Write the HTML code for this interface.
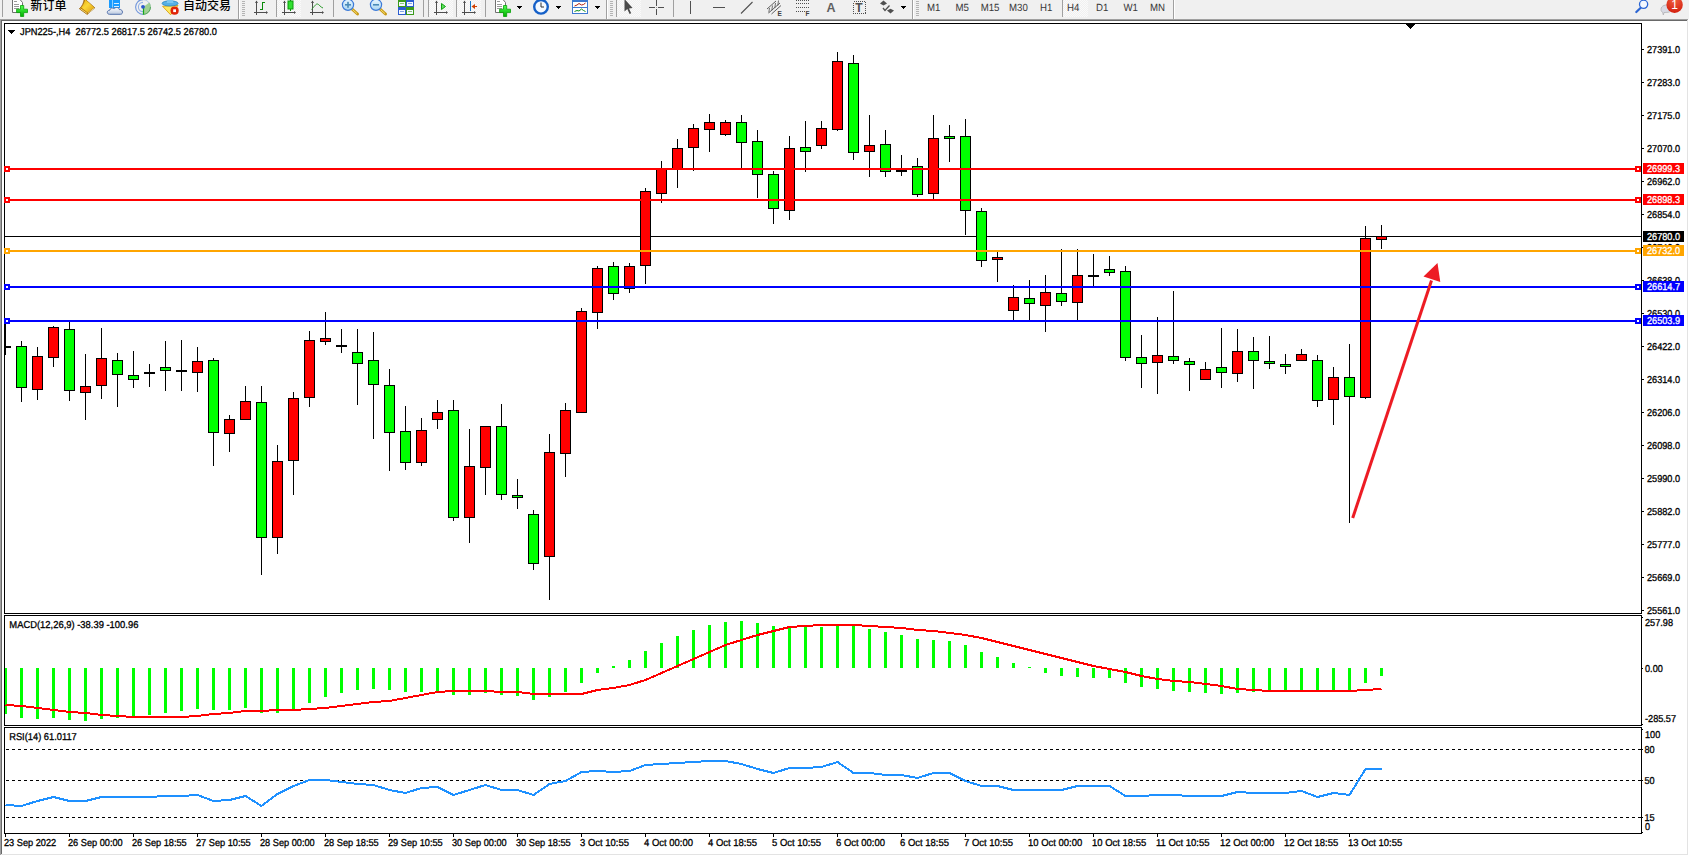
<!DOCTYPE html>
<html lang="zh-CN">
<head>
<meta charset="utf-8">
<title>JPN225-,H4</title>
<style>
html,body{margin:0;padding:0;background:#fff;}
body{width:1689px;height:856px;overflow:hidden;position:relative;font-family:"Liberation Sans","Noto Sans CJK SC",sans-serif;}
svg{position:absolute;left:0;top:0;display:block;}

.t text{font-family:"Liberation Sans","Noto Sans CJK SC",sans-serif;font-size:10px;stroke-width:0.3px;text-rendering:geometricPrecision;}
.tb text{font-family:"Liberation Sans","Noto Sans CJK SC",sans-serif;}
</style>
</head>
<body>
<svg width="1689" height="856" viewBox="0 0 1689 856" shape-rendering="crispEdges">
<rect x="0" y="0" width="1689" height="856" fill="#ffffff"/>
<rect x="0" y="0" width="1689" height="19" fill="#f0f0f0"/>
<rect x="0" y="19" width="1688" height="1" fill="#a0a0a0"/>
<rect x="0" y="19" width="1" height="836" fill="#a0a0a0"/>
<rect x="1" y="20" width="1686" height="1" fill="#696969"/>
<rect x="1" y="20" width="1" height="834" fill="#696969"/>
<rect x="1" y="854" width="1687" height="1" fill="#e3e3e3"/>
<rect x="1687" y="20" width="1" height="835" fill="#e3e3e3"/>
<g id="chart">
<rect x="4" y="23" width="1638" height="1" fill="#000"/>
<rect x="4" y="613" width="1638" height="1" fill="#000"/>
<rect x="4" y="23" width="1" height="591" fill="#000"/>
<rect x="4" y="615" width="1638" height="1" fill="#000"/>
<rect x="4" y="725" width="1638" height="1" fill="#000"/>
<rect x="4" y="615" width="1" height="111" fill="#000"/>
<rect x="4" y="727" width="1638" height="1" fill="#000"/>
<rect x="4" y="833" width="1638" height="1" fill="#000"/>
<rect x="4" y="727" width="1" height="107" fill="#000"/>
<rect x="1641" y="23" width="1" height="591" fill="#000"/>
<rect x="1641" y="615" width="1" height="111" fill="#000"/>
<rect x="1641" y="727" width="1" height="107" fill="#000"/>
<rect x="1642" y="49" width="2" height="1" fill="#000"/>
<rect x="1642" y="82" width="2" height="1" fill="#000"/>
<rect x="1642" y="115" width="2" height="1" fill="#000"/>
<rect x="1642" y="148" width="2" height="1" fill="#000"/>
<rect x="1642" y="181" width="2" height="1" fill="#000"/>
<rect x="1642" y="214" width="2" height="1" fill="#000"/>
<rect x="1642" y="247" width="2" height="1" fill="#000"/>
<rect x="1642" y="280" width="2" height="1" fill="#000"/>
<rect x="1642" y="313" width="2" height="1" fill="#000"/>
<rect x="1642" y="346" width="2" height="1" fill="#000"/>
<rect x="1642" y="379" width="2" height="1" fill="#000"/>
<rect x="1642" y="412" width="2" height="1" fill="#000"/>
<rect x="1642" y="445" width="2" height="1" fill="#000"/>
<rect x="1642" y="478" width="2" height="1" fill="#000"/>
<rect x="1642" y="511" width="2" height="1" fill="#000"/>
<rect x="1642" y="544" width="2" height="1" fill="#000"/>
<rect x="1642" y="577" width="2" height="1" fill="#000"/>
<rect x="1642" y="610" width="2" height="1" fill="#000"/>
<rect x="1642" y="617" width="1" height="1" fill="#000"/>
<rect x="1642" y="668" width="1" height="1" fill="#000"/>
<rect x="1642" y="724" width="1" height="1" fill="#000"/>
<rect x="1642" y="729" width="1" height="1" fill="#000"/>
<rect x="1642" y="749" width="1" height="1" fill="#000"/>
<rect x="1642" y="780" width="1" height="1" fill="#000"/>
<rect x="1642" y="817" width="1" height="1" fill="#000"/>
<rect x="1642" y="832" width="1" height="1" fill="#000"/>
<rect x="5" y="834" width="1" height="3" fill="#000"/>
<rect x="69" y="834" width="1" height="3" fill="#000"/>
<rect x="133" y="834" width="1" height="3" fill="#000"/>
<rect x="197" y="834" width="1" height="3" fill="#000"/>
<rect x="261" y="834" width="1" height="3" fill="#000"/>
<rect x="325" y="834" width="1" height="3" fill="#000"/>
<rect x="389" y="834" width="1" height="3" fill="#000"/>
<rect x="453" y="834" width="1" height="3" fill="#000"/>
<rect x="517" y="834" width="1" height="3" fill="#000"/>
<rect x="581" y="834" width="1" height="3" fill="#000"/>
<rect x="645" y="834" width="1" height="3" fill="#000"/>
<rect x="709" y="834" width="1" height="3" fill="#000"/>
<rect x="773" y="834" width="1" height="3" fill="#000"/>
<rect x="837" y="834" width="1" height="3" fill="#000"/>
<rect x="901" y="834" width="1" height="3" fill="#000"/>
<rect x="965" y="834" width="1" height="3" fill="#000"/>
<rect x="1029" y="834" width="1" height="3" fill="#000"/>
<rect x="1093" y="834" width="1" height="3" fill="#000"/>
<rect x="1157" y="834" width="1" height="3" fill="#000"/>
<rect x="1221" y="834" width="1" height="3" fill="#000"/>
<rect x="1285" y="834" width="1" height="3" fill="#000"/>
<rect x="1349" y="834" width="1" height="3" fill="#000"/>
<path d="M1405.5 24h10l-5 5z" fill="#000"/>
<rect x="5" y="236" width="1636" height="1" fill="#000"/>
</g>
<g id="candles">
<rect x="5" y="322" width="1" height="33" fill="#000"/>
<rect x="5" y="346" width="6" height="2" fill="#000"/>
<rect x="21" y="341" width="1" height="61" fill="#000"/>
<rect x="16" y="346" width="11" height="42" fill="#000"/>
<rect x="17" y="347" width="9" height="40" fill="#00ff00"/>
<rect x="37" y="347" width="1" height="53" fill="#000"/>
<rect x="32" y="356" width="11" height="34" fill="#000"/>
<rect x="33" y="357" width="9" height="32" fill="#ff0000"/>
<rect x="53" y="326" width="1" height="41" fill="#000"/>
<rect x="48" y="327" width="11" height="31" fill="#000"/>
<rect x="49" y="328" width="9" height="29" fill="#ff0000"/>
<rect x="69" y="322" width="1" height="79" fill="#000"/>
<rect x="64" y="329" width="11" height="62" fill="#000"/>
<rect x="65" y="330" width="9" height="60" fill="#00ff00"/>
<rect x="85" y="354" width="1" height="66" fill="#000"/>
<rect x="80" y="386" width="11" height="7" fill="#000"/>
<rect x="81" y="387" width="9" height="5" fill="#ff0000"/>
<rect x="101" y="328" width="1" height="71" fill="#000"/>
<rect x="96" y="358" width="11" height="28" fill="#000"/>
<rect x="97" y="359" width="9" height="26" fill="#ff0000"/>
<rect x="117" y="353" width="1" height="54" fill="#000"/>
<rect x="112" y="360" width="11" height="15" fill="#000"/>
<rect x="113" y="361" width="9" height="13" fill="#00ff00"/>
<rect x="133" y="351" width="1" height="37" fill="#000"/>
<rect x="128" y="375" width="11" height="5" fill="#000"/>
<rect x="129" y="376" width="9" height="3" fill="#00ff00"/>
<rect x="149" y="364" width="1" height="23" fill="#000"/>
<rect x="144" y="372" width="11" height="2" fill="#000"/>
<rect x="165" y="341" width="1" height="50" fill="#000"/>
<rect x="160" y="367" width="11" height="4" fill="#000"/>
<rect x="161" y="368" width="9" height="2" fill="#00ff00"/>
<rect x="181" y="340" width="1" height="51" fill="#000"/>
<rect x="176" y="370" width="11" height="2" fill="#000"/>
<rect x="197" y="347" width="1" height="45" fill="#000"/>
<rect x="192" y="361" width="11" height="12" fill="#000"/>
<rect x="193" y="362" width="9" height="10" fill="#ff0000"/>
<rect x="213" y="358" width="1" height="108" fill="#000"/>
<rect x="208" y="360" width="11" height="73" fill="#000"/>
<rect x="209" y="361" width="9" height="71" fill="#00ff00"/>
<rect x="229" y="415" width="1" height="37" fill="#000"/>
<rect x="224" y="419" width="11" height="15" fill="#000"/>
<rect x="225" y="420" width="9" height="13" fill="#ff0000"/>
<rect x="245" y="386" width="1" height="34" fill="#000"/>
<rect x="240" y="401" width="11" height="19" fill="#000"/>
<rect x="241" y="402" width="9" height="17" fill="#ff0000"/>
<rect x="261" y="386" width="1" height="189" fill="#000"/>
<rect x="256" y="402" width="11" height="136" fill="#000"/>
<rect x="257" y="403" width="9" height="134" fill="#00ff00"/>
<rect x="277" y="445" width="1" height="109" fill="#000"/>
<rect x="272" y="461" width="11" height="77" fill="#000"/>
<rect x="273" y="462" width="9" height="75" fill="#ff0000"/>
<rect x="293" y="392" width="1" height="103" fill="#000"/>
<rect x="288" y="398" width="11" height="63" fill="#000"/>
<rect x="289" y="399" width="9" height="61" fill="#ff0000"/>
<rect x="309" y="331" width="1" height="76" fill="#000"/>
<rect x="304" y="340" width="11" height="58" fill="#000"/>
<rect x="305" y="341" width="9" height="56" fill="#ff0000"/>
<rect x="325" y="312" width="1" height="33" fill="#000"/>
<rect x="320" y="338" width="11" height="4" fill="#000"/>
<rect x="321" y="339" width="9" height="2" fill="#ff0000"/>
<rect x="341" y="329" width="1" height="24" fill="#000"/>
<rect x="336" y="345" width="11" height="2" fill="#000"/>
<rect x="357" y="329" width="1" height="76" fill="#000"/>
<rect x="352" y="352" width="11" height="12" fill="#000"/>
<rect x="353" y="353" width="9" height="10" fill="#00ff00"/>
<rect x="373" y="332" width="1" height="107" fill="#000"/>
<rect x="368" y="360" width="11" height="25" fill="#000"/>
<rect x="369" y="361" width="9" height="23" fill="#00ff00"/>
<rect x="389" y="369" width="1" height="102" fill="#000"/>
<rect x="384" y="385" width="11" height="48" fill="#000"/>
<rect x="385" y="386" width="9" height="46" fill="#00ff00"/>
<rect x="405" y="406" width="1" height="64" fill="#000"/>
<rect x="400" y="431" width="11" height="32" fill="#000"/>
<rect x="401" y="432" width="9" height="30" fill="#00ff00"/>
<rect x="421" y="418" width="1" height="48" fill="#000"/>
<rect x="416" y="430" width="11" height="33" fill="#000"/>
<rect x="417" y="431" width="9" height="31" fill="#ff0000"/>
<rect x="437" y="400" width="1" height="29" fill="#000"/>
<rect x="432" y="412" width="11" height="8" fill="#000"/>
<rect x="433" y="413" width="9" height="6" fill="#ff0000"/>
<rect x="453" y="400" width="1" height="121" fill="#000"/>
<rect x="448" y="410" width="11" height="108" fill="#000"/>
<rect x="449" y="411" width="9" height="106" fill="#00ff00"/>
<rect x="469" y="429" width="1" height="114" fill="#000"/>
<rect x="464" y="466" width="11" height="52" fill="#000"/>
<rect x="465" y="467" width="9" height="50" fill="#ff0000"/>
<rect x="485" y="426" width="1" height="69" fill="#000"/>
<rect x="480" y="426" width="11" height="42" fill="#000"/>
<rect x="481" y="427" width="9" height="40" fill="#ff0000"/>
<rect x="501" y="404" width="1" height="96" fill="#000"/>
<rect x="496" y="426" width="11" height="69" fill="#000"/>
<rect x="497" y="427" width="9" height="67" fill="#00ff00"/>
<rect x="517" y="479" width="1" height="30" fill="#000"/>
<rect x="512" y="495" width="11" height="3" fill="#000"/>
<rect x="513" y="496" width="9" height="1" fill="#00ff00"/>
<rect x="533" y="510" width="1" height="60" fill="#000"/>
<rect x="528" y="514" width="11" height="50" fill="#000"/>
<rect x="529" y="515" width="9" height="48" fill="#00ff00"/>
<rect x="549" y="434" width="1" height="166" fill="#000"/>
<rect x="544" y="452" width="11" height="105" fill="#000"/>
<rect x="545" y="453" width="9" height="103" fill="#ff0000"/>
<rect x="565" y="403" width="1" height="74" fill="#000"/>
<rect x="560" y="410" width="11" height="44" fill="#000"/>
<rect x="561" y="411" width="9" height="42" fill="#ff0000"/>
<rect x="581" y="308" width="1" height="105" fill="#000"/>
<rect x="576" y="311" width="11" height="102" fill="#000"/>
<rect x="577" y="312" width="9" height="100" fill="#ff0000"/>
<rect x="597" y="266" width="1" height="63" fill="#000"/>
<rect x="592" y="268" width="11" height="45" fill="#000"/>
<rect x="593" y="269" width="9" height="43" fill="#ff0000"/>
<rect x="613" y="262" width="1" height="38" fill="#000"/>
<rect x="608" y="266" width="11" height="28" fill="#000"/>
<rect x="609" y="267" width="9" height="26" fill="#00ff00"/>
<rect x="629" y="263" width="1" height="30" fill="#000"/>
<rect x="624" y="266" width="11" height="23" fill="#000"/>
<rect x="625" y="267" width="9" height="21" fill="#ff0000"/>
<rect x="645" y="188" width="1" height="96" fill="#000"/>
<rect x="640" y="191" width="11" height="75" fill="#000"/>
<rect x="641" y="192" width="9" height="73" fill="#ff0000"/>
<rect x="661" y="161" width="1" height="42" fill="#000"/>
<rect x="656" y="168" width="11" height="26" fill="#000"/>
<rect x="657" y="169" width="9" height="24" fill="#ff0000"/>
<rect x="677" y="139" width="1" height="49" fill="#000"/>
<rect x="672" y="148" width="11" height="22" fill="#000"/>
<rect x="673" y="149" width="9" height="20" fill="#ff0000"/>
<rect x="693" y="124" width="1" height="47" fill="#000"/>
<rect x="688" y="128" width="11" height="20" fill="#000"/>
<rect x="689" y="129" width="9" height="18" fill="#ff0000"/>
<rect x="709" y="114" width="1" height="38" fill="#000"/>
<rect x="704" y="122" width="11" height="8" fill="#000"/>
<rect x="705" y="123" width="9" height="6" fill="#ff0000"/>
<rect x="725" y="120" width="1" height="16" fill="#000"/>
<rect x="720" y="122" width="11" height="13" fill="#000"/>
<rect x="721" y="123" width="9" height="11" fill="#ff0000"/>
<rect x="741" y="115" width="1" height="54" fill="#000"/>
<rect x="736" y="122" width="11" height="21" fill="#000"/>
<rect x="737" y="123" width="9" height="19" fill="#00ff00"/>
<rect x="757" y="130" width="1" height="68" fill="#000"/>
<rect x="752" y="141" width="11" height="34" fill="#000"/>
<rect x="753" y="142" width="9" height="32" fill="#00ff00"/>
<rect x="773" y="171" width="1" height="53" fill="#000"/>
<rect x="768" y="174" width="11" height="35" fill="#000"/>
<rect x="769" y="175" width="9" height="33" fill="#00ff00"/>
<rect x="789" y="136" width="1" height="84" fill="#000"/>
<rect x="784" y="148" width="11" height="63" fill="#000"/>
<rect x="785" y="149" width="9" height="61" fill="#ff0000"/>
<rect x="805" y="121" width="1" height="51" fill="#000"/>
<rect x="800" y="147" width="11" height="5" fill="#000"/>
<rect x="801" y="148" width="9" height="3" fill="#00ff00"/>
<rect x="821" y="121" width="1" height="28" fill="#000"/>
<rect x="816" y="128" width="11" height="18" fill="#000"/>
<rect x="817" y="129" width="9" height="16" fill="#ff0000"/>
<rect x="837" y="52" width="1" height="79" fill="#000"/>
<rect x="832" y="61" width="11" height="69" fill="#000"/>
<rect x="833" y="62" width="9" height="67" fill="#ff0000"/>
<rect x="853" y="55" width="1" height="105" fill="#000"/>
<rect x="848" y="63" width="11" height="90" fill="#000"/>
<rect x="849" y="64" width="9" height="88" fill="#00ff00"/>
<rect x="869" y="115" width="1" height="62" fill="#000"/>
<rect x="864" y="145" width="11" height="7" fill="#000"/>
<rect x="865" y="146" width="9" height="5" fill="#ff0000"/>
<rect x="885" y="130" width="1" height="47" fill="#000"/>
<rect x="880" y="144" width="11" height="28" fill="#000"/>
<rect x="881" y="145" width="9" height="26" fill="#00ff00"/>
<rect x="901" y="155" width="1" height="21" fill="#000"/>
<rect x="896" y="170" width="11" height="2" fill="#000"/>
<rect x="917" y="158" width="1" height="39" fill="#000"/>
<rect x="912" y="166" width="11" height="29" fill="#000"/>
<rect x="913" y="167" width="9" height="27" fill="#00ff00"/>
<rect x="933" y="115" width="1" height="84" fill="#000"/>
<rect x="928" y="138" width="11" height="56" fill="#000"/>
<rect x="929" y="139" width="9" height="54" fill="#ff0000"/>
<rect x="949" y="125" width="1" height="37" fill="#000"/>
<rect x="944" y="136" width="11" height="3" fill="#000"/>
<rect x="945" y="137" width="9" height="1" fill="#00ff00"/>
<rect x="965" y="119" width="1" height="116" fill="#000"/>
<rect x="960" y="136" width="11" height="75" fill="#000"/>
<rect x="961" y="137" width="9" height="73" fill="#00ff00"/>
<rect x="981" y="208" width="1" height="59" fill="#000"/>
<rect x="976" y="211" width="11" height="50" fill="#000"/>
<rect x="977" y="212" width="9" height="48" fill="#00ff00"/>
<rect x="997" y="252" width="1" height="30" fill="#000"/>
<rect x="992" y="257" width="11" height="3" fill="#000"/>
<rect x="993" y="258" width="9" height="1" fill="#ff0000"/>
<rect x="1013" y="285" width="1" height="36" fill="#000"/>
<rect x="1008" y="297" width="11" height="14" fill="#000"/>
<rect x="1009" y="298" width="9" height="12" fill="#ff0000"/>
<rect x="1029" y="280" width="1" height="41" fill="#000"/>
<rect x="1024" y="298" width="11" height="6" fill="#000"/>
<rect x="1025" y="299" width="9" height="4" fill="#00ff00"/>
<rect x="1045" y="275" width="1" height="57" fill="#000"/>
<rect x="1040" y="292" width="11" height="14" fill="#000"/>
<rect x="1041" y="293" width="9" height="12" fill="#ff0000"/>
<rect x="1061" y="249" width="1" height="57" fill="#000"/>
<rect x="1056" y="293" width="11" height="9" fill="#000"/>
<rect x="1057" y="294" width="9" height="7" fill="#00ff00"/>
<rect x="1077" y="249" width="1" height="72" fill="#000"/>
<rect x="1072" y="275" width="11" height="28" fill="#000"/>
<rect x="1073" y="276" width="9" height="26" fill="#ff0000"/>
<rect x="1093" y="254" width="1" height="32" fill="#000"/>
<rect x="1088" y="275" width="11" height="2" fill="#000"/>
<rect x="1109" y="256" width="1" height="20" fill="#000"/>
<rect x="1104" y="269" width="11" height="4" fill="#000"/>
<rect x="1105" y="270" width="9" height="2" fill="#00ff00"/>
<rect x="1125" y="266" width="1" height="95" fill="#000"/>
<rect x="1120" y="271" width="11" height="87" fill="#000"/>
<rect x="1121" y="272" width="9" height="85" fill="#00ff00"/>
<rect x="1141" y="335" width="1" height="53" fill="#000"/>
<rect x="1136" y="357" width="11" height="7" fill="#000"/>
<rect x="1137" y="358" width="9" height="5" fill="#00ff00"/>
<rect x="1157" y="317" width="1" height="77" fill="#000"/>
<rect x="1152" y="355" width="11" height="8" fill="#000"/>
<rect x="1153" y="356" width="9" height="6" fill="#ff0000"/>
<rect x="1173" y="291" width="1" height="73" fill="#000"/>
<rect x="1168" y="356" width="11" height="5" fill="#000"/>
<rect x="1169" y="357" width="9" height="3" fill="#00ff00"/>
<rect x="1189" y="358" width="1" height="33" fill="#000"/>
<rect x="1184" y="361" width="11" height="4" fill="#000"/>
<rect x="1185" y="362" width="9" height="2" fill="#00ff00"/>
<rect x="1205" y="362" width="1" height="18" fill="#000"/>
<rect x="1200" y="369" width="11" height="11" fill="#000"/>
<rect x="1201" y="370" width="9" height="9" fill="#ff0000"/>
<rect x="1221" y="328" width="1" height="60" fill="#000"/>
<rect x="1216" y="367" width="11" height="6" fill="#000"/>
<rect x="1217" y="368" width="9" height="4" fill="#00ff00"/>
<rect x="1237" y="329" width="1" height="53" fill="#000"/>
<rect x="1232" y="351" width="11" height="23" fill="#000"/>
<rect x="1233" y="352" width="9" height="21" fill="#ff0000"/>
<rect x="1253" y="337" width="1" height="52" fill="#000"/>
<rect x="1248" y="351" width="11" height="10" fill="#000"/>
<rect x="1249" y="352" width="9" height="8" fill="#00ff00"/>
<rect x="1269" y="336" width="1" height="33" fill="#000"/>
<rect x="1264" y="361" width="11" height="3" fill="#000"/>
<rect x="1265" y="362" width="9" height="1" fill="#00ff00"/>
<rect x="1285" y="354" width="1" height="20" fill="#000"/>
<rect x="1280" y="364" width="11" height="3" fill="#000"/>
<rect x="1281" y="365" width="9" height="1" fill="#00ff00"/>
<rect x="1301" y="349" width="1" height="12" fill="#000"/>
<rect x="1296" y="354" width="11" height="7" fill="#000"/>
<rect x="1297" y="355" width="9" height="5" fill="#ff0000"/>
<rect x="1317" y="355" width="1" height="52" fill="#000"/>
<rect x="1312" y="360" width="11" height="41" fill="#000"/>
<rect x="1313" y="361" width="9" height="39" fill="#00ff00"/>
<rect x="1333" y="367" width="1" height="58" fill="#000"/>
<rect x="1328" y="377" width="11" height="23" fill="#000"/>
<rect x="1329" y="378" width="9" height="21" fill="#ff0000"/>
<rect x="1349" y="344" width="1" height="179" fill="#000"/>
<rect x="1344" y="377" width="11" height="20" fill="#000"/>
<rect x="1345" y="378" width="9" height="18" fill="#00ff00"/>
<rect x="1365" y="226" width="1" height="173" fill="#000"/>
<rect x="1360" y="238" width="11" height="160" fill="#000"/>
<rect x="1361" y="239" width="9" height="158" fill="#ff0000"/>
<rect x="1381" y="225" width="1" height="24" fill="#000"/>
<rect x="1376" y="236" width="11" height="4" fill="#000"/>
<rect x="1377" y="237" width="9" height="2" fill="#ff0000"/>
</g>
<g id="axislabels" class="t">
<text transform="translate(1647 53) scale(0.915 1)" fill="#000" stroke="#000">27391.0</text>
<text transform="translate(1647 86) scale(0.915 1)" fill="#000" stroke="#000">27283.0</text>
<text transform="translate(1647 119) scale(0.915 1)" fill="#000" stroke="#000">27175.0</text>
<text transform="translate(1647 152) scale(0.915 1)" fill="#000" stroke="#000">27070.0</text>
<text transform="translate(1647 185) scale(0.915 1)" fill="#000" stroke="#000">26962.0</text>
<text transform="translate(1647 218) scale(0.915 1)" fill="#000" stroke="#000">26854.0</text>
<text transform="translate(1647 251) scale(0.915 1)" fill="#000" stroke="#000">26746.0</text>
<text transform="translate(1647 284) scale(0.915 1)" fill="#000" stroke="#000">26638.0</text>
<text transform="translate(1647 317) scale(0.915 1)" fill="#000" stroke="#000">26530.0</text>
<text transform="translate(1647 350) scale(0.915 1)" fill="#000" stroke="#000">26422.0</text>
<text transform="translate(1647 383) scale(0.915 1)" fill="#000" stroke="#000">26314.0</text>
<text transform="translate(1647 416) scale(0.915 1)" fill="#000" stroke="#000">26206.0</text>
<text transform="translate(1647 449) scale(0.915 1)" fill="#000" stroke="#000">26098.0</text>
<text transform="translate(1647 482) scale(0.915 1)" fill="#000" stroke="#000">25990.0</text>
<text transform="translate(1647 515) scale(0.915 1)" fill="#000" stroke="#000">25882.0</text>
<text transform="translate(1647 548) scale(0.915 1)" fill="#000" stroke="#000">25777.0</text>
<text transform="translate(1647 581) scale(0.915 1)" fill="#000" stroke="#000">25669.0</text>
<text transform="translate(1647 614) scale(0.915 1)" fill="#000" stroke="#000">25561.0</text>
</g>
<g id="hlines">
<rect x="5" y="168" width="1636" height="2" fill="#ff0000"/>
<rect x="4" y="166" width="6" height="6" fill="#ff0000"/>
<rect x="6" y="168" width="2" height="2" fill="#fff"/>
<rect x="1635" y="166" width="6" height="6" fill="#ff0000"/>
<rect x="1637" y="168" width="2" height="2" fill="#fff"/>
<rect x="1643" y="163" width="41" height="11" fill="#ff0000"/>
<rect x="5" y="199" width="1636" height="2" fill="#ff0000"/>
<rect x="4" y="197" width="6" height="6" fill="#ff0000"/>
<rect x="6" y="199" width="2" height="2" fill="#fff"/>
<rect x="1635" y="197" width="6" height="6" fill="#ff0000"/>
<rect x="1637" y="199" width="2" height="2" fill="#fff"/>
<rect x="1643" y="194" width="41" height="11" fill="#ff0000"/>
<rect x="5" y="250" width="1636" height="2" fill="#ffa500"/>
<rect x="4" y="248" width="6" height="6" fill="#ffa500"/>
<rect x="6" y="250" width="2" height="2" fill="#fff"/>
<rect x="1635" y="248" width="6" height="6" fill="#ffa500"/>
<rect x="1637" y="250" width="2" height="2" fill="#fff"/>
<rect x="1643" y="245" width="41" height="11" fill="#ffa500"/>
<rect x="5" y="286" width="1636" height="2" fill="#0000ff"/>
<rect x="4" y="284" width="6" height="6" fill="#0000ff"/>
<rect x="6" y="286" width="2" height="2" fill="#fff"/>
<rect x="1635" y="284" width="6" height="6" fill="#0000ff"/>
<rect x="1637" y="286" width="2" height="2" fill="#fff"/>
<rect x="1643" y="281" width="41" height="11" fill="#0000ff"/>
<rect x="5" y="320" width="1636" height="2" fill="#0000ff"/>
<rect x="4" y="318" width="6" height="6" fill="#0000ff"/>
<rect x="6" y="320" width="2" height="2" fill="#fff"/>
<rect x="1635" y="318" width="6" height="6" fill="#0000ff"/>
<rect x="1637" y="320" width="2" height="2" fill="#fff"/>
<rect x="1643" y="315" width="41" height="11" fill="#0000ff"/>
<rect x="1643" y="231" width="41" height="11" fill="#000"/>
</g>
<g id="macd">
<rect x="5" y="668" width="2" height="46" fill="#00ff00"/>
<rect x="20" y="668" width="3" height="50" fill="#00ff00"/>
<rect x="36" y="668" width="3" height="51" fill="#00ff00"/>
<rect x="52" y="668" width="3" height="50" fill="#00ff00"/>
<rect x="68" y="668" width="3" height="52" fill="#00ff00"/>
<rect x="84" y="668" width="3" height="53" fill="#00ff00"/>
<rect x="100" y="668" width="3" height="51" fill="#00ff00"/>
<rect x="116" y="668" width="3" height="50" fill="#00ff00"/>
<rect x="132" y="668" width="3" height="48" fill="#00ff00"/>
<rect x="148" y="668" width="3" height="47" fill="#00ff00"/>
<rect x="164" y="668" width="3" height="45" fill="#00ff00"/>
<rect x="180" y="668" width="3" height="43" fill="#00ff00"/>
<rect x="196" y="668" width="3" height="41" fill="#00ff00"/>
<rect x="212" y="668" width="3" height="42" fill="#00ff00"/>
<rect x="228" y="668" width="3" height="42" fill="#00ff00"/>
<rect x="244" y="668" width="3" height="40" fill="#00ff00"/>
<rect x="260" y="668" width="3" height="45" fill="#00ff00"/>
<rect x="276" y="668" width="3" height="45" fill="#00ff00"/>
<rect x="292" y="668" width="3" height="42" fill="#00ff00"/>
<rect x="308" y="668" width="3" height="35" fill="#00ff00"/>
<rect x="324" y="668" width="3" height="29" fill="#00ff00"/>
<rect x="340" y="668" width="3" height="25" fill="#00ff00"/>
<rect x="356" y="668" width="3" height="22" fill="#00ff00"/>
<rect x="372" y="668" width="3" height="21" fill="#00ff00"/>
<rect x="388" y="668" width="3" height="22" fill="#00ff00"/>
<rect x="404" y="668" width="3" height="24" fill="#00ff00"/>
<rect x="420" y="668" width="3" height="24" fill="#00ff00"/>
<rect x="436" y="668" width="3" height="23" fill="#00ff00"/>
<rect x="452" y="668" width="3" height="27" fill="#00ff00"/>
<rect x="468" y="668" width="3" height="27" fill="#00ff00"/>
<rect x="484" y="668" width="3" height="25" fill="#00ff00"/>
<rect x="500" y="668" width="3" height="27" fill="#00ff00"/>
<rect x="516" y="668" width="3" height="28" fill="#00ff00"/>
<rect x="532" y="668" width="3" height="32" fill="#00ff00"/>
<rect x="548" y="668" width="3" height="29" fill="#00ff00"/>
<rect x="564" y="668" width="3" height="24" fill="#00ff00"/>
<rect x="580" y="668" width="3" height="15" fill="#00ff00"/>
<rect x="596" y="668" width="3" height="5" fill="#00ff00"/>
<rect x="612" y="666" width="3" height="2" fill="#00ff00"/>
<rect x="628" y="660" width="3" height="8" fill="#00ff00"/>
<rect x="644" y="651" width="3" height="17" fill="#00ff00"/>
<rect x="660" y="643" width="3" height="25" fill="#00ff00"/>
<rect x="676" y="636" width="3" height="32" fill="#00ff00"/>
<rect x="692" y="630" width="3" height="38" fill="#00ff00"/>
<rect x="708" y="625" width="3" height="43" fill="#00ff00"/>
<rect x="724" y="622" width="3" height="46" fill="#00ff00"/>
<rect x="740" y="621" width="3" height="47" fill="#00ff00"/>
<rect x="756" y="623" width="3" height="45" fill="#00ff00"/>
<rect x="772" y="626" width="3" height="42" fill="#00ff00"/>
<rect x="788" y="626" width="3" height="42" fill="#00ff00"/>
<rect x="804" y="627" width="3" height="41" fill="#00ff00"/>
<rect x="820" y="627" width="3" height="41" fill="#00ff00"/>
<rect x="836" y="625" width="3" height="43" fill="#00ff00"/>
<rect x="852" y="626" width="3" height="42" fill="#00ff00"/>
<rect x="868" y="629" width="3" height="39" fill="#00ff00"/>
<rect x="884" y="632" width="3" height="36" fill="#00ff00"/>
<rect x="900" y="635" width="3" height="33" fill="#00ff00"/>
<rect x="916" y="639" width="3" height="29" fill="#00ff00"/>
<rect x="932" y="640" width="3" height="28" fill="#00ff00"/>
<rect x="948" y="641" width="3" height="27" fill="#00ff00"/>
<rect x="964" y="645" width="3" height="23" fill="#00ff00"/>
<rect x="980" y="652" width="3" height="16" fill="#00ff00"/>
<rect x="996" y="657" width="3" height="11" fill="#00ff00"/>
<rect x="1012" y="663" width="3" height="5" fill="#00ff00"/>
<rect x="1028" y="667" width="3" height="1" fill="#00ff00"/>
<rect x="1044" y="668" width="3" height="5" fill="#00ff00"/>
<rect x="1060" y="668" width="3" height="8" fill="#00ff00"/>
<rect x="1076" y="668" width="3" height="9" fill="#00ff00"/>
<rect x="1092" y="668" width="3" height="10" fill="#00ff00"/>
<rect x="1108" y="668" width="3" height="10" fill="#00ff00"/>
<rect x="1124" y="668" width="3" height="15" fill="#00ff00"/>
<rect x="1140" y="668" width="3" height="19" fill="#00ff00"/>
<rect x="1156" y="668" width="3" height="21" fill="#00ff00"/>
<rect x="1172" y="668" width="3" height="23" fill="#00ff00"/>
<rect x="1188" y="668" width="3" height="24" fill="#00ff00"/>
<rect x="1204" y="668" width="3" height="25" fill="#00ff00"/>
<rect x="1220" y="668" width="3" height="26" fill="#00ff00"/>
<rect x="1236" y="668" width="3" height="25" fill="#00ff00"/>
<rect x="1252" y="668" width="3" height="24" fill="#00ff00"/>
<rect x="1268" y="668" width="3" height="23" fill="#00ff00"/>
<rect x="1284" y="668" width="3" height="23" fill="#00ff00"/>
<rect x="1300" y="668" width="3" height="23" fill="#00ff00"/>
<rect x="1316" y="668" width="3" height="23" fill="#00ff00"/>
<rect x="1332" y="668" width="3" height="23" fill="#00ff00"/>
<rect x="1348" y="668" width="3" height="23" fill="#00ff00"/>
<rect x="1364" y="668" width="3" height="15" fill="#00ff00"/>
<rect x="1380" y="668" width="3" height="8" fill="#00ff00"/>
<polyline points="5.5,705 21.5,706 37.5,708 53.5,710 69.5,712 85.5,713 101.5,715 117.5,716 133.5,717 149.5,717 165.5,717 181.5,717 197.5,716 213.5,714 229.5,713 245.5,711 261.5,711 277.5,710 293.5,710 309.5,709 325.5,708 341.5,706 357.5,704 373.5,702 389.5,701 405.5,698 421.5,695 437.5,692 453.5,691 469.5,691 485.5,691 501.5,692 517.5,692 533.5,694 549.5,694 565.5,694 581.5,694 597.5,690 613.5,688 629.5,685 645.5,680 661.5,673 677.5,666 693.5,659 709.5,652 725.5,645 741.5,640 757.5,635 773.5,631 789.5,627 805.5,626 821.5,625 837.5,625 853.5,625 869.5,626 885.5,627 901.5,628 917.5,630 933.5,631 949.5,633 965.5,635 981.5,638 997.5,642 1013.5,646 1029.5,650 1045.5,654 1061.5,658 1077.5,662 1093.5,666 1109.5,669 1125.5,672 1141.5,676 1157.5,679 1173.5,681 1189.5,682 1205.5,684 1221.5,686 1237.5,689 1253.5,690 1269.5,691 1285.5,691 1301.5,691 1317.5,691 1333.5,691 1349.5,691 1365.5,690 1381.5,689" fill="none" stroke="#ff0000" stroke-width="2" stroke-linejoin="round"/>
</g>
<g id="rsi">
<path d="M6 749.5H1641" stroke="#000" stroke-width="1" stroke-dasharray="3 3" fill="none"/>
<path d="M6 780.5H1641" stroke="#000" stroke-width="1" stroke-dasharray="3 3" fill="none"/>
<path d="M6 817.5H1641" stroke="#000" stroke-width="1" stroke-dasharray="3 3" fill="none"/>
<polyline points="5.5,805 21.5,806 37.5,801 53.5,797 69.5,801 85.5,801 101.5,797 117.5,797 133.5,797 149.5,797 165.5,796 181.5,796 197.5,795 213.5,801 229.5,800 245.5,796 261.5,806 277.5,794 293.5,786 309.5,780 325.5,780 341.5,782 357.5,784 373.5,785 389.5,790 405.5,793 421.5,788 437.5,787 453.5,795 469.5,790 485.5,785 501.5,790 517.5,790 533.5,795 549.5,784 565.5,781 581.5,772 597.5,771 613.5,772 629.5,771 645.5,765 661.5,764 677.5,763 693.5,762 709.5,761 725.5,761 741.5,764 757.5,769 773.5,773 789.5,768 805.5,768 821.5,767 837.5,762 853.5,773 869.5,773 885.5,775 901.5,775 917.5,778 933.5,773 949.5,773 965.5,781 981.5,786 997.5,786 1013.5,790 1029.5,790 1045.5,790 1061.5,790 1077.5,786 1093.5,786 1109.5,786 1125.5,796 1141.5,796 1157.5,795 1173.5,795 1189.5,796 1205.5,796 1221.5,796 1237.5,792 1253.5,793 1269.5,793 1285.5,793 1301.5,791 1317.5,797 1333.5,793 1349.5,795 1365.5,769 1381.5,769" fill="none" stroke="#1e90ff" stroke-width="2" stroke-linejoin="round"/>
</g>
<g id="arrow" shape-rendering="geometricPrecision">
<line x1="1352.7" y1="518" x2="1431.5" y2="280.5" stroke="#ed1c24" stroke-width="3"/>
<polygon points="1437.5,263 1423.5,276.6 1440.3,282.1" fill="#ed1c24"/>
</g>
<g id="labels" class="t">
<text transform="translate(20 35) scale(0.925 1)" fill="#000" stroke="#000">JPN225-,H4&#160; 26772.5 26817.5 26742.5 26780.0</text>
<path d="M8 30h7l-3.5 4z" fill="#000"/>
<text transform="translate(9.3 628) scale(0.94 1)" fill="#000" stroke="#000">MACD(12,26,9) -38.39 -100.96</text>
<text transform="translate(9.2 740) scale(0.93 1)" fill="#000" stroke="#000">RSI(14) 61.0117</text>
<text transform="translate(1647 172) scale(0.915 1)" fill="#fff" stroke="#fff">26999.3</text>
<text transform="translate(1647 203) scale(0.915 1)" fill="#fff" stroke="#fff">26898.3</text>
<text transform="translate(1647 240) scale(0.915 1)" fill="#fff" stroke="#fff">26780.0</text>
<text transform="translate(1647 254) scale(0.915 1)" fill="#fff" stroke="#fff">26732.0</text>
<text transform="translate(1647 290) scale(0.915 1)" fill="#fff" stroke="#fff">26614.7</text>
<text transform="translate(1647 324) scale(0.915 1)" fill="#fff" stroke="#fff">26503.9</text>
<text transform="translate(1645 626) scale(0.915 1)" fill="#000" stroke="#000">257.98</text>
<text transform="translate(1645 672) scale(0.915 1)" fill="#000" stroke="#000">0.00</text>
<text transform="translate(1645 722) scale(0.915 1)" fill="#000" stroke="#000">-285.57</text>
<text transform="translate(1645 738) scale(0.915 1)" fill="#000" stroke="#000">100</text>
<text transform="translate(1644.5 753) scale(0.915 1)" fill="#000" stroke="#000">80</text>
<text transform="translate(1644.5 784) scale(0.915 1)" fill="#000" stroke="#000">50</text>
<text transform="translate(1644.5 821) scale(0.915 1)" fill="#000" stroke="#000">15</text>
<text transform="translate(1645 830) scale(0.915 1)" fill="#000" stroke="#000">0</text>
<text transform="translate(4 846) scale(0.92 1)" fill="#000" stroke="#000">23 Sep 2022</text>
<text transform="translate(68 846) scale(0.92 1)" fill="#000" stroke="#000">26 Sep 00:00</text>
<text transform="translate(132 846) scale(0.92 1)" fill="#000" stroke="#000">26 Sep 18:55</text>
<text transform="translate(196 846) scale(0.92 1)" fill="#000" stroke="#000">27 Sep 10:55</text>
<text transform="translate(260 846) scale(0.92 1)" fill="#000" stroke="#000">28 Sep 00:00</text>
<text transform="translate(324 846) scale(0.92 1)" fill="#000" stroke="#000">28 Sep 18:55</text>
<text transform="translate(388 846) scale(0.92 1)" fill="#000" stroke="#000">29 Sep 10:55</text>
<text transform="translate(452 846) scale(0.92 1)" fill="#000" stroke="#000">30 Sep 00:00</text>
<text transform="translate(516 846) scale(0.92 1)" fill="#000" stroke="#000">30 Sep 18:55</text>
<text transform="translate(580 846) scale(0.946 1)" fill="#000" stroke="#000">3 Oct 10:55</text>
<text transform="translate(644 846) scale(0.946 1)" fill="#000" stroke="#000">4 Oct 00:00</text>
<text transform="translate(708 846) scale(0.946 1)" fill="#000" stroke="#000">4 Oct 18:55</text>
<text transform="translate(772 846) scale(0.946 1)" fill="#000" stroke="#000">5 Oct 10:55</text>
<text transform="translate(836 846) scale(0.946 1)" fill="#000" stroke="#000">6 Oct 00:00</text>
<text transform="translate(900 846) scale(0.946 1)" fill="#000" stroke="#000">6 Oct 18:55</text>
<text transform="translate(964 846) scale(0.946 1)" fill="#000" stroke="#000">7 Oct 10:55</text>
<text transform="translate(1028 846) scale(0.946 1)" fill="#000" stroke="#000">10 Oct 00:00</text>
<text transform="translate(1092 846) scale(0.946 1)" fill="#000" stroke="#000">10 Oct 18:55</text>
<text transform="translate(1156 846) scale(0.946 1)" fill="#000" stroke="#000">11 Oct 10:55</text>
<text transform="translate(1220 846) scale(0.946 1)" fill="#000" stroke="#000">12 Oct 00:00</text>
<text transform="translate(1284 846) scale(0.946 1)" fill="#000" stroke="#000">12 Oct 18:55</text>
<text transform="translate(1348 846) scale(0.946 1)" fill="#000" stroke="#000">13 Oct 10:55</text>
</g>
<g id="toolbar" class="tb">
<defs>
<linearGradient id="gGold" x1="0" y1="0" x2="1" y2="1"><stop offset="0" stop-color="#e2a80c"/><stop offset="0.45" stop-color="#fbd738"/><stop offset="1" stop-color="#dc9c0e"/></linearGradient>
<linearGradient id="gCloud" x1="0" y1="0" x2="0" y2="1"><stop offset="0" stop-color="#ffffff"/><stop offset="1" stop-color="#b8c6de"/></linearGradient>
<linearGradient id="gPlus" x1="0" y1="0" x2="0" y2="1"><stop offset="0" stop-color="#50ff50"/><stop offset="1" stop-color="#00b000"/></linearGradient>
<radialGradient id="gBadge" cx="0.5" cy="0.2" r="0.9"><stop offset="0" stop-color="#f06040"/><stop offset="1" stop-color="#d01808"/></radialGradient>
<linearGradient id="gLens" x1="0" y1="0" x2="0" y2="1"><stop offset="0" stop-color="#e8f6ff"/><stop offset="1" stop-color="#a8d4f0"/></linearGradient>
<pattern id="dith" width="2" height="2" patternUnits="userSpaceOnUse"><rect width="2" height="2" fill="#f0f0f0"/><rect width="1" height="1" fill="#fafafa"/><rect x="1" y="1" width="1" height="1" fill="#fafafa"/></pattern>
</defs>
<rect x="2" y="0" width="1" height="17" fill="#a0a0a0"/>
<path d="M12.5 -1V12.5H22.5V2.5L20 -0.5H12.5" fill="#fff" stroke="#707070" stroke-width="1" shape-rendering="geometricPrecision"/>
<rect x="14" y="1" width="3" height="1" fill="#9a9a9a"/>
<rect x="14" y="4" width="5" height="1" fill="#9a9a9a"/>
<rect x="14" y="6" width="5" height="1" fill="#9a9a9a"/>
<rect x="14" y="8" width="5" height="1" fill="#9a9a9a"/>
<path d="M20.5 5.5h3.2v3.7h3.8v3.4h-3.8v3.9h-3.2v-3.9h-3.9v-3.4h3.9z" fill="url(#gPlus)" stroke="#08a008" stroke-width="0.8" shape-rendering="geometricPrecision"/>
<text x="30.6" y="9.8" font-size="12" font-weight="500" fill="#000">新订单</text>
<g shape-rendering="geometricPrecision" stroke-linejoin="round">
<path d="M85 -0.8L94.8 7.8L87.2 14.4L79.4 8.8C82 6.5 83.8 3 84.2 -0.8Z" fill="#b87a0c" stroke="#9a6408" stroke-width="0.8"/>
<path d="M85.2 -0.5L94.2 7.5L87.6 12.4L81.2 7.6C83.2 5.4 84.6 2.6 85.2 -0.5Z" fill="url(#gGold)"/>
<path d="M80.4 8.7L87.2 13.5" fill="none" stroke="#f6d870" stroke-width="1"/>
<path d="M88 13.2L94.2 8.2" fill="none" stroke="#e8d8a0" stroke-width="0.9"/>
</g>
<rect x="109" y="-1" width="11" height="9" fill="#1a9bff"/>
<rect x="112" y="-1" width="1" height="9" fill="#8fd0ff"/>
<rect x="114" y="3" width="5" height="1" fill="#d8efff"/><rect x="114" y="6" width="5" height="1" fill="#d8efff"/>
<path d="M109.5 14.3C106.5 14.3 106.6 10.2 109.6 10.3C110 8 112.8 7.4 114.2 8.6C116 6.6 119.3 7.6 119.4 9.6C122.8 8.8 123.8 14.3 120.4 14.3Z" fill="url(#gCloud)" stroke="#4464a4" stroke-width="0.9" shape-rendering="geometricPrecision"/>
<g shape-rendering="geometricPrecision" fill="none">
<path d="M143 -0.4A7.4 7.4 0 0 0 143 14.4" stroke="#5a86d8" stroke-width="1.1" opacity="0.85"/>
<path d="M143 -0.4A7.4 7.4 0 0 1 150.4 7" stroke="#9ab8e0" stroke-width="1" opacity="0.7"/>
<path d="M143 2.4A4.6 4.6 0 0 0 143 11.6" stroke="#88a8e4" stroke-width="1.1" opacity="0.9"/>
<path d="M143.3 7L143.3 14.6A7.6 7.6 0 0 0 149.4 2.6Z" fill="#8cc87c" opacity="0.8"/>
<path d="M143.3 14.5A7.5 7.5 0 0 0 150.5 7" stroke="#3c9a4c" stroke-width="1" opacity="0.8"/>
<path d="M143.5 7V14.6" stroke="#18a818" stroke-width="1.2"/>
<circle cx="143" cy="6.8" r="1.9" fill="#2c58cc"/>
</g>
<g shape-rendering="geometricPrecision">
<path d="M162.6 6.3L178 5.4L170.6 14.8Z" fill="#ffe860" stroke="#d8a010" stroke-width="0.9" stroke-linejoin="round"/>
<ellipse cx="170.1" cy="3.4" rx="8" ry="2.6" fill="#56b0e6" stroke="#2a86c0" stroke-width="0.8"/>
<path d="M166.6 3L167.6 -1H172.4L173.6 3Z" fill="#7cc6f0"/>
<circle cx="174.6" cy="10.7" r="4.1" fill="#e02408"/>
<rect x="173.2" y="9.3" width="2.8" height="2.8" fill="#fff"/>
</g>
<text x="183" y="9.8" font-size="12" font-weight="500" fill="#000">自动交易</text>
<rect x="238" y="0" width="1" height="19" fill="#a0a0a0"/>
<rect x="239" y="0" width="1" height="19" fill="#ffffff"/>
<rect x="242" y="1" width="3" height="1" fill="#b4b4b4"/>
<rect x="242" y="3" width="3" height="1" fill="#b4b4b4"/>
<rect x="242" y="5" width="3" height="1" fill="#b4b4b4"/>
<rect x="242" y="7" width="3" height="1" fill="#b4b4b4"/>
<rect x="242" y="9" width="3" height="1" fill="#b4b4b4"/>
<rect x="242" y="11" width="3" height="1" fill="#b4b4b4"/>
<rect x="242" y="13" width="3" height="1" fill="#b4b4b4"/>
<rect x="242" y="15" width="3" height="1" fill="#b4b4b4"/>
<rect x="256" y="1" width="1" height="14" fill="#4d4d4d"/>
<rect x="254" y="12" width="13" height="1" fill="#4d4d4d"/>
<path d="M255 3h3l-1.5 -2.5z M266 11v3l2 -1.5z" fill="#4d4d4d" shape-rendering="geometricPrecision"/>
<path d="M262.5 1.5v8M262.5 2.5h2.5M260 9.5h2.5" stroke="#0a8a0a" stroke-width="1" fill="none"/>
<rect x="276" y="0" width="1" height="17" fill="#a0a0a0"/>
<rect x="277" y="0" width="24" height="17" fill="url(#dith)"/>
<rect x="284" y="1" width="1" height="14" fill="#4d4d4d"/>
<rect x="282" y="12" width="13" height="1" fill="#4d4d4d"/>
<path d="M283 3h3l-1.5 -2.5z M294 11v3l2 -1.5z" fill="#4d4d4d" shape-rendering="geometricPrecision"/>
<rect x="290" y="0" width="1" height="11" fill="#0a8a0a"/><rect x="288" y="1" width="5" height="8" fill="#30e030" stroke="#0a9a0a" stroke-width="1" shape-rendering="geometricPrecision"/>
<rect x="312" y="1" width="1" height="14" fill="#4d4d4d"/>
<rect x="310" y="12" width="13" height="1" fill="#4d4d4d"/>
<path d="M311 3h3l-1.5 -2.5z M322 11v3l2 -1.5z" fill="#4d4d4d" shape-rendering="geometricPrecision"/>
<path d="M311.5 9.5C314 7 316 3.5 317.5 4C319 4.3 320.5 7.2 323 8" stroke="#2a9a2a" stroke-width="1" fill="none" shape-rendering="geometricPrecision"/>
<rect x="333" y="0" width="1" height="17" fill="#a0a0a0"/>
<g shape-rendering="geometricPrecision">
<path d="M352 9L357.5 14" stroke="#c89a18" stroke-width="3" stroke-linecap="round"/>
<path d="M352.5 9.5L357 13.6" stroke="#f8e070" stroke-width="1"/>
<circle cx="348" cy="4.8" r="5.6" fill="url(#gLens)" stroke="#3c7ad8" stroke-width="1.2"/>
<rect x="345" y="4" width="6" height="1.6" fill="#4a8ab8"/>
<rect x="347.2" y="1.8" width="1.6" height="6" fill="#4a8ab8"/>
</g>
<g shape-rendering="geometricPrecision">
<path d="M380 9L385.5 14" stroke="#c89a18" stroke-width="3" stroke-linecap="round"/>
<path d="M380.5 9.5L385 13.6" stroke="#f8e070" stroke-width="1"/>
<circle cx="376" cy="4.8" r="5.6" fill="url(#gLens)" stroke="#3c7ad8" stroke-width="1.2"/>
<rect x="373" y="4" width="6" height="1.6" fill="#4a8ab8"/>
</g>
<rect x="398" y="-1" width="8" height="8" fill="#3a9a1a"/>
<rect x="399" y="2" width="6" height="4" fill="#f4f8ff"/>
<rect x="400" y="3" width="4" height="1" fill="#3a9a1a" opacity="0.55"/>
<rect x="406" y="-1" width="8" height="8" fill="#2a5cd0"/>
<rect x="407" y="2" width="6" height="4" fill="#f4f8ff"/>
<rect x="408" y="3" width="4" height="1" fill="#2a5cd0" opacity="0.55"/>
<rect x="398" y="7" width="8" height="8" fill="#2a5cd0"/>
<rect x="399" y="10" width="6" height="4" fill="#f4f8ff"/>
<rect x="400" y="11" width="4" height="1" fill="#2a5cd0" opacity="0.55"/>
<rect x="406" y="7" width="8" height="8" fill="#3a9a1a"/>
<rect x="407" y="10" width="6" height="4" fill="#f4f8ff"/>
<rect x="408" y="11" width="4" height="1" fill="#3a9a1a" opacity="0.55"/>
<rect x="423" y="0" width="1" height="17" fill="#a0a0a0"/>
<rect x="428" y="0" width="1" height="17" fill="#a0a0a0"/>
<rect x="429" y="0" width="24" height="17" fill="url(#dith)"/>
<rect x="436" y="1" width="1" height="14" fill="#4d4d4d"/>
<rect x="434" y="12" width="13" height="1" fill="#4d4d4d"/>
<path d="M435 3h3l-1.5 -2.5z M446 11v3l2 -1.5z" fill="#4d4d4d" shape-rendering="geometricPrecision"/>
<path d="M441.5 3.5L445.5 6.5L441.5 9.5Z" fill="#60e060" stroke="#10a010" stroke-width="1" shape-rendering="geometricPrecision"/>
<rect x="456" y="0" width="1" height="17" fill="#a0a0a0"/>
<rect x="457" y="0" width="24" height="17" fill="url(#dith)"/>
<rect x="464" y="1" width="1" height="14" fill="#4d4d4d"/>
<rect x="462" y="12" width="13" height="1" fill="#4d4d4d"/>
<path d="M463 3h3l-1.5 -2.5z M474 11v3l2 -1.5z" fill="#4d4d4d" shape-rendering="geometricPrecision"/>
<rect x="470" y="1" width="1" height="10" fill="#1878c8"/>
<path d="M471.5 6.5L475 4v5z M474 6h3v1h-3z" fill="#d04000" shape-rendering="geometricPrecision"/>
<rect x="485" y="0" width="1" height="17" fill="#a0a0a0"/>
<path d="M495.5 -1V12.5H505.5V2.5L503 -0.5H495.5" fill="#fff" stroke="#707070" stroke-width="1" shape-rendering="geometricPrecision"/>
<rect x="497" y="1" width="3" height="1" fill="#9a9a9a"/>
<rect x="497" y="4" width="5" height="1" fill="#9a9a9a"/>
<rect x="497" y="6" width="5" height="1" fill="#9a9a9a"/>
<rect x="497" y="8" width="5" height="1" fill="#9a9a9a"/>
<path d="M503.5 5.5h3.2v3.7h3.8v3.4h-3.8v3.9h-3.2v-3.9h-3.9v-3.4h3.9z" fill="url(#gPlus)" stroke="#08a008" stroke-width="0.8" shape-rendering="geometricPrecision"/>
<path d="M517 6h5l-2.5 3z" fill="#000"/>
<g shape-rendering="geometricPrecision">
<circle cx="541" cy="6.8" r="6.8" fill="#f4f9ff" stroke="#1560c8" stroke-width="2.4"/>
<path d="M541 2.5V7H544" stroke="#303030" stroke-width="1" fill="none"/>
</g>
<path d="M556 6h5l-2.5 3z" fill="#000"/>
<rect x="572" y="-1" width="16" height="15" fill="#3c78d0"/>
<rect x="573" y="2" width="14" height="5" fill="#ffffff"/><rect x="573" y="8" width="14" height="5" fill="#ffffff"/>
<path d="M574.5 6l2.5-1 2 -1.5 2.5 1.5 2 -.5 2-1.500" stroke="#b02010" stroke-width="1" fill="none" shape-rendering="geometricPrecision"/>
<path d="M574.5 11.5l2.5-1 2 .5 2.5-2 2 1.500 2 1" stroke="#109020" stroke-width="1" fill="none" shape-rendering="geometricPrecision"/>
<path d="M595 6h5l-2.5 3z" fill="#000"/>
<rect x="606" y="0" width="1" height="19" fill="#a0a0a0"/>
<rect x="607" y="0" width="1" height="19" fill="#ffffff"/>
<rect x="610" y="1" width="3" height="1" fill="#b4b4b4"/>
<rect x="610" y="3" width="3" height="1" fill="#b4b4b4"/>
<rect x="610" y="5" width="3" height="1" fill="#b4b4b4"/>
<rect x="610" y="7" width="3" height="1" fill="#b4b4b4"/>
<rect x="610" y="9" width="3" height="1" fill="#b4b4b4"/>
<rect x="610" y="11" width="3" height="1" fill="#b4b4b4"/>
<rect x="610" y="13" width="3" height="1" fill="#b4b4b4"/>
<rect x="610" y="15" width="3" height="1" fill="#b4b4b4"/>
<rect x="616" y="0" width="1" height="17" fill="#a0a0a0"/>
<rect x="617" y="0" width="24" height="17" fill="url(#dith)"/>
<path d="M624.5 -1V11.5L627.3 9L629.6 14L631.2 13.2L629 8.4L632.6 8Z" fill="#4a4a4a" shape-rendering="geometricPrecision"/>
<rect x="656" y="0" width="1" height="6" fill="#505050"/><rect x="656" y="9" width="1" height="6" fill="#505050"/><rect x="649" y="7" width="6" height="1" fill="#505050"/><rect x="658" y="7" width="6" height="1" fill="#505050"/><rect x="656" y="7" width="1" height="1" fill="#a0a0a0"/>
<rect x="673" y="0" width="1" height="17" fill="#a0a0a0"/>
<rect x="690" y="1" width="1" height="13" fill="#505050"/>
<rect x="713" y="7" width="12" height="1" fill="#505050"/>
<path d="M741 13.500L752.500 2" stroke="#505050" stroke-width="1.1" fill="none" shape-rendering="geometricPrecision"/>
<g shape-rendering="geometricPrecision" stroke="#505050" stroke-width="0.9" fill="none">
<path d="M767 9L776 1M768.500 13L780 3M771.500 14L781 5.500"/>
<path d="M769.500 8L768.800 12.500M772.500 5.500L771.800 10.500M775.500 3L774.800 8M778.500 0.500L777.800 5.500" stroke-width="0.8"/>
</g>
<text x="777.6" y="15.6" font-size="6.5" font-weight="bold" fill="#404040">E</text>
<path d="M796 0.5h14" stroke="#505050" stroke-width="1" stroke-dasharray="1 1" fill="none"/>
<path d="M796 3.5h14" stroke="#505050" stroke-width="1" stroke-dasharray="1 1" fill="none"/>
<path d="M796 7.5h14" stroke="#505050" stroke-width="1" stroke-dasharray="1 1" fill="none"/>
<path d="M796 11.5h10" stroke="#505050" stroke-width="1" stroke-dasharray="1 1" fill="none"/>
<text x="805.6" y="15.6" font-size="6.5" font-weight="bold" fill="#404040">F</text>
<text x="826.4" y="11.800" font-size="12.500" font-weight="bold" fill="#606060">A</text>
<rect x="853.500" y="1.500" width="12" height="12" fill="none" stroke="#505050" stroke-width="1" stroke-dasharray="1 1"/>
<text x="855.3" y="11.800" font-size="12" font-weight="bold" fill="#505050">T</text>
<g shape-rendering="geometricPrecision" fill="#505050">
<path d="M883.500 0.500L887 3.500L883.500 5.500L880 3.500Z"/>
<path d="M890.500 13.500L894 10.500L890.500 8.800L887 10.500Z"/>
<path d="M883 8L885 10.500L889.500 5.500" fill="none" stroke="#505050" stroke-width="1.3"/>
</g>
<path d="M901 6h5l-2.5 3z" fill="#000"/>
<rect x="912" y="0" width="1" height="19" fill="#a0a0a0"/>
<rect x="913" y="0" width="1" height="19" fill="#ffffff"/>
<rect x="916" y="1" width="3" height="1" fill="#b4b4b4"/>
<rect x="916" y="3" width="3" height="1" fill="#b4b4b4"/>
<rect x="916" y="5" width="3" height="1" fill="#b4b4b4"/>
<rect x="916" y="7" width="3" height="1" fill="#b4b4b4"/>
<rect x="916" y="9" width="3" height="1" fill="#b4b4b4"/>
<rect x="916" y="11" width="3" height="1" fill="#b4b4b4"/>
<rect x="916" y="13" width="3" height="1" fill="#b4b4b4"/>
<rect x="916" y="15" width="3" height="1" fill="#b4b4b4"/>
<text transform="translate(927 11) scale(0.93 1)" font-size="10.4" fill="#383838" style="text-rendering:geometricPrecision">M1</text>
<text transform="translate(955.5 11) scale(0.93 1)" font-size="10.4" fill="#383838" style="text-rendering:geometricPrecision">M5</text>
<text transform="translate(980.7 11) scale(0.93 1)" font-size="10.4" fill="#383838" style="text-rendering:geometricPrecision">M15</text>
<text transform="translate(1009 11) scale(0.93 1)" font-size="10.4" fill="#383838" style="text-rendering:geometricPrecision">M30</text>
<text transform="translate(1040 11) scale(0.93 1)" font-size="10.4" fill="#383838" style="text-rendering:geometricPrecision">H1</text>
<rect x="1062" y="0" width="1" height="17" fill="#a0a0a0"/>
<rect x="1063" y="0" width="25" height="17" fill="url(#dith)"/>
<text transform="translate(1067 11) scale(0.93 1)" font-size="10.4" fill="#383838" style="text-rendering:geometricPrecision">H4</text>
<text transform="translate(1096 11) scale(0.93 1)" font-size="10.4" fill="#383838" style="text-rendering:geometricPrecision">D1</text>
<text transform="translate(1123.5 11) scale(0.93 1)" font-size="10.4" fill="#383838" style="text-rendering:geometricPrecision">W1</text>
<text transform="translate(1150 11) scale(0.93 1)" font-size="10.4" fill="#383838" style="text-rendering:geometricPrecision">MN</text>
<rect x="1173" y="0" width="1" height="19" fill="#a0a0a0"/>
<rect x="1174" y="0" width="1" height="19" fill="#ffffff"/>
<g shape-rendering="geometricPrecision">
<path d="M1640.500 8L1636.300 12" stroke="#2c66d4" stroke-width="2.200" stroke-linecap="round"/>
<circle cx="1643.600" cy="4.300" r="4.100" fill="#f4f8ff" stroke="#2c66d4" stroke-width="1.300"/>
<path d="M1661 9.500C1661 5.500 1666 4 1670 5.500C1673 7 1673 11.500 1668 12.300L1664 12.500L1663.300 15L1662.700 12.300C1661.500 11.800 1661 10.800 1661 9.500Z" fill="#d8dae4" stroke="#b0b0b4" stroke-width="0.800"/>
<circle cx="1674.600" cy="4.800" r="8.200" fill="url(#gBadge)"/>
</g>
<text x="1671.200" y="9" font-size="12" fill="#fff" font-family="Liberation Serif,serif">1</text>
</g>
</svg>
</body>
</html>
